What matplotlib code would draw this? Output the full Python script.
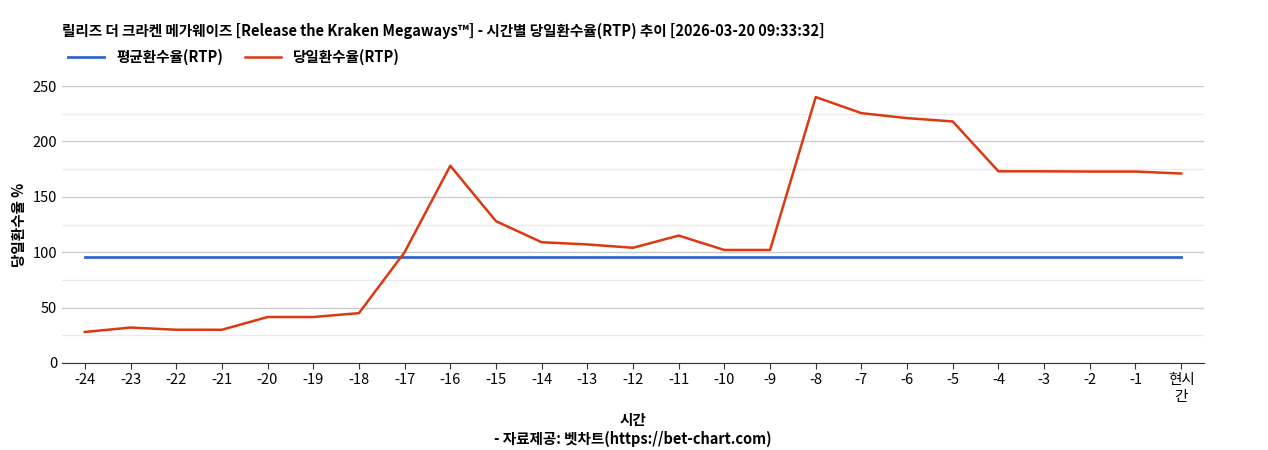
import matplotlib
matplotlib.use("Agg")
import matplotlib.pyplot as plt

plt.rcParams['font.family'] = ['Noto Sans CJK KR', 'DejaVu Sans']

labels = [str(i) for i in range(-24, 0)] + ["현시\n간"]
daily = [28, 32, 30, 30, 41.5, 41.5, 45, 100, 178, 128, 109, 107, 104, 115, 102, 102,
         240, 225.5, 221, 218, 173, 173, 172.8, 172.8, 171]
avg = [96] * len(labels)

fig = plt.figure(figsize=(12.68, 4.5), dpi=100)
ax = fig.add_axes([62/1268, 1-363/450, (1204-62)/1268, (363-86)/450 * 1.0])
x = list(range(len(labels)))
ax.plot(x, avg, color="#3366cc", lw=2, label="평균환수율(RTP)")
ax.plot(x, daily, color="#dc3912", lw=1.8, label="당일환수율(RTP)")
ax.set_xlim(-0.5, len(labels) - 0.5)
ax.set_ylim(0, 250)
ax.set_yticks([0, 50, 100, 150, 200, 250])
ax.set_yticks([25, 75, 125, 175, 225], minor=True)
ax.grid(axis='y', which='major', color='#cccccc', lw=1)
ax.grid(axis='y', which='minor', color='#ebebeb', lw=1)
ax.tick_params(axis='y', which='both', length=0, labelsize=10.5)
ax.tick_params(axis='x', length=4, labelsize=10.5, color='#333333')
ax.set_xticks(x)
ax.set_xticklabels(labels)
ax.set_axisbelow(True)
for s in ['top', 'right', 'left']:
    ax.spines[s].set_visible(False)
ax.spines['bottom'].set_color('#333333')
ax.set_ylabel("당일환수율 %", fontsize=10.5, fontweight='bold')
ax.set_xlabel("시간\n- 자료제공: 벳차트(https://bet-chart.com)", fontsize=10.5, fontweight='bold', labelpad=6)
fig.text(62/1268, 1-31/450, "릴리즈 더 크라켄 메가웨이즈 [Release the Kraken Megaways™] - 시간별 당일환수율(RTP) 추이 [2026-03-20 09:33:32]",
         fontsize=10.5, fontweight='bold', va='center')
ax.legend(loc='upper left', bbox_to_anchor=(-0.0, 1.155), ncol=2, frameon=False,
          prop={'weight': 'bold', 'size': 10.5}, handlelength=2.5, borderaxespad=0, columnspacing=1.5)
fig.savefig("out.png", dpi=100)
